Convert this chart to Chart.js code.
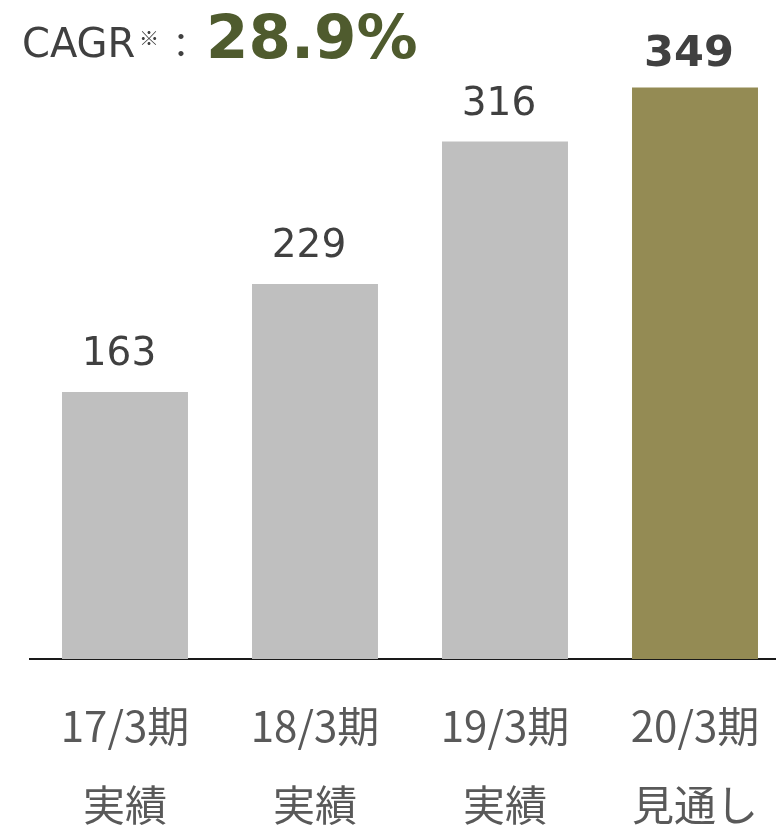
<!DOCTYPE html>
<html>
<head>
<meta charset="utf-8">
<script src="https://cdn.jsdelivr.net/npm/chart.js@4"></script>
<style>
  html, body { margin: 0; padding: 0; background: #fff; overflow: hidden; }
  #wrap { position: relative; width: 790px; height: 828px; }
</style>
</head>
<body>
<div id="wrap"><canvas id="chart"></canvas></div>
<script>
// data
const periods = ["17/3期", "18/3期", "19/3期", "20/3期"];
const kinds = ["実績", "実績", "実績", "見通し"];
const sales = [163, 229, 316, 349];
const cagrText = "28.9%";

const barColors = ["#bfbfbf", "#bfbfbf", "#bfbfbf", "#948b54"];
const labels = periods.map((p, i) => [p, kinds[i]]);

// numbers above bars, last one bold
const valueLabels = {
  id: "valueLabels",
  afterDatasetsDraw(chart) {
    const ctx = chart.ctx;
    const meta = chart.getDatasetMeta(0);
    ctx.save();
    ctx.textAlign = "center";
    ctx.textBaseline = "middle";
    meta.data.forEach((bar, i) => {
      const last = i === sales.length - 1;
      ctx.font = (last ? "bold 43px " : "39px ") + "'DejaVu Sans'";
      ctx.fillStyle = "#404040";
      // labels sit a little left of the bar centre in the original
      ctx.fillText(String(sales[i]), bar.x - 6, bar.y - (last ? 33 : 37));
    });
    ctx.restore();
  }
};

// "CAGR※：28.9%" heading
const cagrHeading = {
  id: "cagrHeading",
  afterDraw(chart) {
    const ctx = chart.ctx;
    ctx.save();
    ctx.textBaseline = "alphabetic";
    ctx.fillStyle = "#404040";
    ctx.font = "40px 'DejaVu Sans'";
    ctx.fillText("CAGR", 22, 57);
    ctx.font = "20px 'Noto Sans CJK JP'";
    ctx.fillText("※", 139, 46);
    ctx.font = "34px 'Noto Sans CJK JP'";
    ctx.fillText("：", 164, 58);
    ctx.fillStyle = "#4f5b2e";
    ctx.font = "bold 61px 'DejaVu Sans'";
    ctx.fillText(cagrText, 206, 58);
    ctx.restore();
  }
};

function draw() {
  new Chart(document.getElementById("chart"), {
    type: "bar",
    data: {
      labels: labels,
      datasets: [{
        data: sales,
        backgroundColor: barColors,
        borderWidth: 0,
        barPercentage: 0.663,
        categoryPercentage: 1
      }]
    },
    options: {
      responsive: true,
      maintainAspectRatio: false,
      animation: false,
      layout: { padding: { top: 4, left: 30, right: 0, bottom: 0 } },
      plugins: {
        legend: { display: false },
        tooltip: { enabled: false }
      },
      scales: {
        x: {
          grid: { display: false, drawTicks: false },
          border: { display: true, color: "#1a1a1a", width: 2 },
          ticks: {
            color: "#595959",
            padding: 28,
            font: { family: "'Noto Sans CJK JP'", size: 42, lineHeight: "79px" },
            maxRotation: 0,
            autoSkip: false
          },
          afterFit: (axis) => { axis.height = 169; }
        },
        y: {
          display: false,
          min: 0,
          max: 400
        }
      }
    },
    plugins: [valueLabels, cagrHeading]
  });
}

// make sure the local fonts are ready before the canvas draws
Promise.all([
  document.fonts.load("39px 'DejaVu Sans'"),
  document.fonts.load("bold 61px 'DejaVu Sans'"),
  document.fonts.load("42px 'Noto Sans CJK JP'", "期実績見通し：※")
]).then(draw, draw);
</script>
</body>
</html>
